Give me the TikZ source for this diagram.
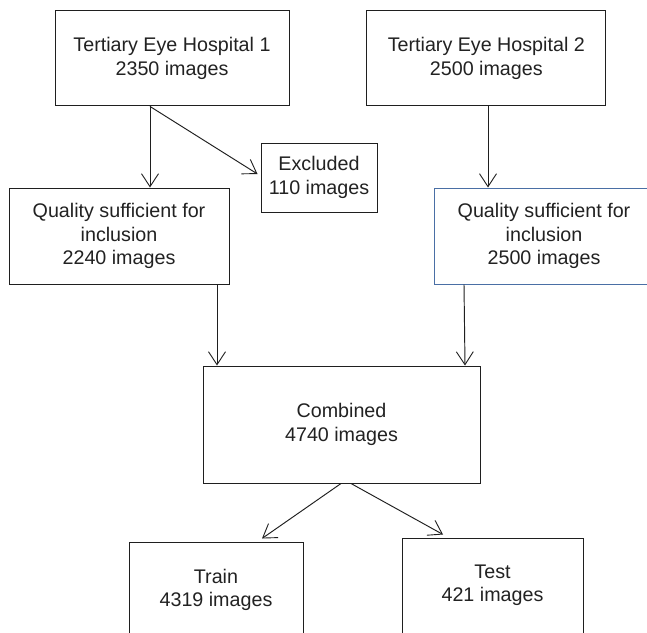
\documentclass[tikz,border=0pt]{standalone}
\usepackage{fontspec}
\setmainfont{Liberation Sans}
\usetikzlibrary{arrows.meta}
\definecolor{txt}{HTML}{222222}
\definecolor{bluebd}{HTML}{4A6FA5}
\begin{document}
\begin{tikzpicture}[x=1pt,y=-1pt,
  box/.style={draw=black!88, line width=1pt, inner sep=0pt, align=center,
    font=\fontsize{19.7}{23.4}\selectfont, text=txt},
  conn/.style={draw=black!88, line width=0.95pt,
    -{Straight Barb[length=13pt,width=17pt,line width=0.9pt]}}]
\clip (0,0) rectangle (647,632);
\fill[white] (0,0) rectangle (647,632);
\node[box, minimum width=234pt, minimum height=95.3pt] (b1) at (172,58.3)
  {Tertiary Eye Hospital 1\\2350 images};
\node[box, minimum width=239.3pt, minimum height=95.3pt] (b2) at (486.3,58.3)
  {Tertiary Eye Hospital 2\\2500 images};
\node[box, minimum width=116pt, minimum height=69pt] (ex) at (319,177.5)
  {Excluded\\110 images};
\node[box, minimum width=220pt, minimum height=96pt] (q1) at (119,236)
  {Quality sufficient for\\inclusion\\2240 images};
\node[box, draw=bluebd, minimum width=220pt, minimum height=96pt] (q2) at (544,236)
  {Quality sufficient for\\inclusion\\2500 images};
\node[box, minimum width=277pt, minimum height=117pt] (cb) at (341.5,424.5)
  {Combined\\4740 images};
\node[box, minimum width=174pt, text height=53.7pt, text depth=44.3pt] (tr) at (216,591)
  {\begin{tabular}{@{}c@{}}Train\\4319 images\end{tabular}};
\node[box, minimum width=181pt, text height=52.2pt, text depth=49.8pt] (te) at (492.5,589)
  {\begin{tabular}{@{}c@{}}Test\\421 images\end{tabular}};
\draw[conn] ([xshift=-22pt]b1.south) -- ([xshift=31pt]q1.north);
\draw[conn] ([xshift=-22pt]b1.south) -- ([xshift=-3pt,yshift=3.5pt]ex.west);
\draw[conn] ([xshift=1.7pt]b2.south) -- ([xshift=-56pt]q2.north);
\draw[conn] ([xshift=98pt]q1.south) -- ([xshift=-124.5pt]cb.north);
\draw[conn] ([xshift=-80pt]q2.south) -- ([xshift=123.5pt]cb.north);
\draw[conn] ([xshift=-0.5pt]cb.south) -- ([xshift=46pt,yshift=3pt]tr.north);
\draw[conn] ([xshift=9.5pt]cb.south) -- ([xshift=-49.5pt,yshift=3pt]te.north);
\end{tikzpicture}
\end{document}
